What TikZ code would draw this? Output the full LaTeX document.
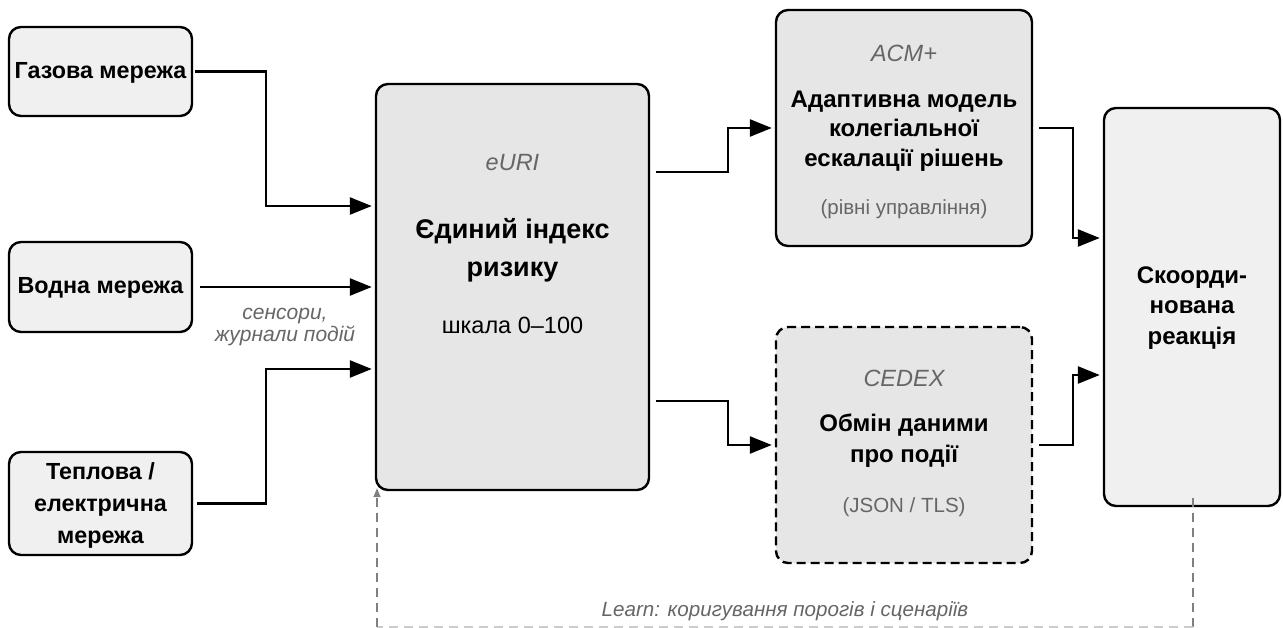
\documentclass[tikz,border=0pt]{standalone}
\usepackage{fontspec}
\setmainfont{Liberation Sans}
\usetikzlibrary{arrows.meta,calc}
\definecolor{boxlight}{HTML}{F0F0F0}
\definecolor{boxmid}{HTML}{E6E6E6}
\definecolor{note}{HTML}{666666}
\definecolor{loop}{HTML}{808080}
\tikzset{
  block/.style={draw=black, line width=2.4pt, rounded corners=12pt, inner sep=0pt},
  src/.style={block, fill=boxlight},
  core/.style={block, fill=boxmid},
  title/.style={font=\fontsize{23.3}{30}\selectfont\bfseries, align=center, text=black},
  tag/.style={font=\fontsize{23.5}{26}\selectfont\itshape, text=note},
  sub/.style={font=\fontsize{20.5}{24}\selectfont, text=note},
  flow/.style={line width=2.5pt, -{Triangle[length=22pt,width=17pt]}},
  loopline/.style={draw=loop, line width=1.4pt, dash pattern=on 9pt off 6pt},
}
\begin{document}
\begin{tikzpicture}[x=1pt,y=-1pt]
\useasboundingbox (0,0) rectangle (1283,628);

% source networks
\node[src, minimum width=183pt, minimum height=89pt] (gas) at (100.5,71.5) {};
\node[title] (gastxt) at (100.5,72.5) {Газова мережа};
\node[src, minimum width=183pt, minimum height=90pt] (water) at (100.5,287) {};
\node[title] (watertxt) at (100.5,288) {Водна мережа};
\node[src, minimum width=183pt, minimum height=103pt] (heat) at (100.5,503.5) {};
\node[title, font=\fontsize{23.3}{32}\selectfont\bfseries] (heattxt) at (100.5,505) {Теплова /\\електрична\\мережа};

% unified risk index
\node[core, minimum width=273pt, minimum height=406pt] (euri) at (512.5,287) {};
\node[tag] (euritag) at (512.5,163) {eURI};
\node[title, font=\fontsize{27}{38}\selectfont\bfseries] (euritxt) at (512.5,250) {Єдиний індекс\\ризику};
\node[font=\fontsize{23.5}{26}\selectfont] (eurisub) at (512.5,325) {шкала 0–100};

% escalation model
\node[core, minimum width=256pt, minimum height=236pt] (acm) at (904,128) {};
\node[tag] (acmtag) at (904,53) {ACM+};
\node[title, font=\fontsize{24}{29.5}\selectfont\bfseries] (acmtxt) at (904,131) {Адаптивна модель\\колегіальної\\ескалації рішень};
\node[sub] (acmsub) at (904,209) {(рівні управління)};

% event data exchange
\node[core, dashed, dash pattern=on 9pt off 5pt, minimum width=256pt, minimum height=236pt] (cedex) at (904,445) {};
\node[tag] (cedextag) at (904,378) {CEDEX};
\node[title, font=\fontsize{24}{31}\selectfont\bfseries] (cedextxt) at (904,441) {Обмін даними\\про події};
\node[sub] (cedexsub) at (904,507) {(JSON / TLS)};

% coordinated response
\node[src, minimum width=176pt, minimum height=398pt] (resp) at (1192,307) {};
\node[title, font=\fontsize{24}{30.5}\selectfont\bfseries] (resptxt) at (1192,308) {Скоорди-\\нована\\реакція};

% inputs
\draw[flow] ([xshift=2pt]gas.east) -- (266,71.5) |- ([xshift=-3pt]euri.west |- 0,206);
\draw[flow] ([xshift=7pt]water.east) -- ([xshift=-3pt]euri.west |- water.east);
\draw[flow] ([xshift=4pt]heat.east) -- (266,503.5) |- ([xshift=-3pt]euri.west |- 0,369);
\node[tag, font=\fontsize{21}{22}\selectfont\itshape, align=center] (sensors) at (285,327) {сенсори,\\журнали подій};

% outputs of the index
\draw[flow] ([xshift=6pt]euri.east |- 0,172) -- (728,172) |- ([xshift=-3pt]acm.west);
\draw[flow] ([xshift=6pt]euri.east |- 0,401) -- (728,401) |- ([xshift=-3pt]cedex.west);

% into the response
\draw[flow] ([xshift=6pt]acm.east) -- (1073,128) |- ([xshift=-3pt]resp.west |- 0,238);
\draw[flow] ([xshift=6pt]cedex.east) -- (1073,445) |- ([xshift=-3pt]resp.west |- 0,375);

% learning loop
\coordinate (loopR) at (1193,627);
\coordinate (loopL) at (377,627);
\draw[loopline] ([yshift=9pt]resp.south -| loopR) -- (loopR);
\draw[draw=loop!40, line width=1.4pt, dash pattern=on 9pt off 6pt] (loopR) -- (loopL);
\draw[loopline, -{Triangle[length=9pt,width=7pt]}] (loopL) -- ([yshift=3pt]euri.south -| loopL);
\node[tag, font=\fontsize{20.6}{22}\selectfont\itshape] (learn) at (785,611) {Learn: коригування порогів і сценаріїв};
\end{tikzpicture}
\end{document}
